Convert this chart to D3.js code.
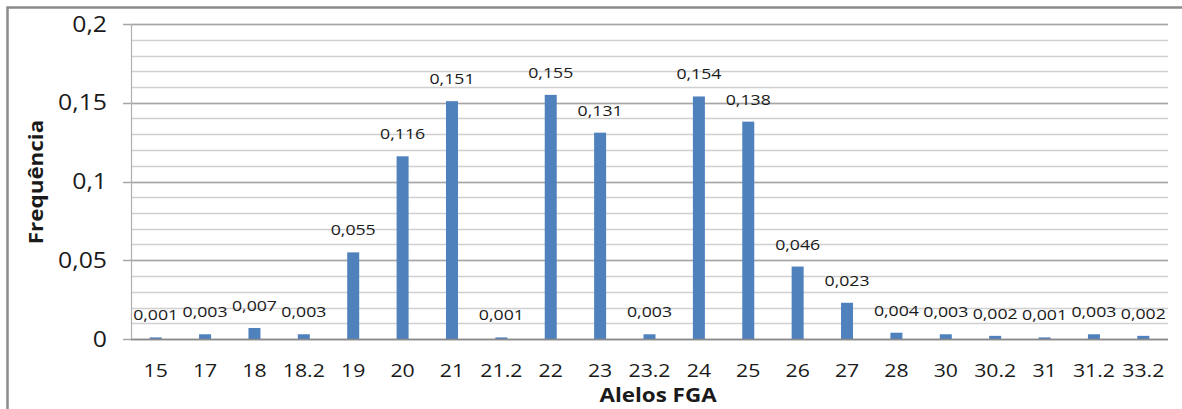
<!DOCTYPE html>
<html>
<head>
<meta charset="utf-8">
<script src="https://cdn.jsdelivr.net/npm/d3@7"></script>
<style>
  html, body { margin: 0; padding: 0; background: #fff; }
  svg { display: block; }
  text { font-family: "Open Sans", "Liberation Sans", sans-serif; fill: #1a1a1a; }
</style>
</head>
<body>
<svg id="chart" width="1182" height="409"></svg>
<script>
// FGA allele frequencies
const alleles = ["15","17","18","18.2","19","20","21","21.2","22","23","23.2","24","25","26","27","28","30","30.2","31","31.2","33.2"];
const frequencies = [0.001,0.003,0.007,0.003,0.055,0.116,0.151,0.001,0.155,0.131,0.003,0.154,0.138,0.046,0.023,0.004,0.003,0.002,0.001,0.003,0.002];
const yTicks = [0, 0.05, 0.1, 0.15, 0.2];
const yMinorTicks = d3.range(0, 0.2001, 0.01);

const svg = d3.select("#chart");
const W = 1182, H = 409;
const plot = { left: 131, right: 1168, top: 24, bottom: 339 };

const fmt = v => String(v).replace(".", ",");
const stretch = 1.18; // wide label faces

// chart frame
svg.append("rect")
  .attr("x", 7.5).attr("y", 7.5)
  .attr("width", W + 20).attr("height", H + 20)
  .attr("fill", "#fff").attr("stroke", "#8c8c8c").attr("stroke-width", 2.5);

const x = d3.scaleBand().domain(alleles).range([plot.left, plot.right]).paddingInner(0).paddingOuter(0);
const y = d3.scaleLinear().domain([0, 0.2]).range([plot.bottom, plot.top]);
const barW = 12;

// minor grid
svg.append("g").selectAll("line").data(yMinorTicks).join("line")
  .attr("x1", plot.left).attr("x2", plot.right)
  .attr("y1", d => Math.round(y(d)) + 0.5).attr("y2", d => Math.round(y(d)) + 0.5)
  .attr("stroke", "#d0d0d0").attr("stroke-width", 1.5);

// major grid
svg.append("g").selectAll("line").data(yTicks).join("line")
  .attr("x1", plot.left - 8).attr("x2", plot.right)
  .attr("y1", d => Math.round(y(d)) + 0.5).attr("y2", d => Math.round(y(d)) + 0.5)
  .attr("stroke", "#a6a6a6").attr("stroke-width", 1.5);

// y axis line
svg.append("line")
  .attr("x1", plot.left + 0.5).attr("x2", plot.left + 0.5)
  .attr("y1", plot.top).attr("y2", plot.bottom)
  .attr("stroke", "#b0b0b0").attr("stroke-width", 1.2);

// y tick labels
const yAxis = d3.axisLeft(y).tickValues(yTicks).tickFormat(fmt).tickSize(0).tickPadding(0);
const yg = svg.append("g").attr("transform", `translate(${plot.left},0)`).call(yAxis);
yg.select(".domain").remove();
yg.selectAll("text")
  .attr("x", null).attr("dy", null).attr("y", null)
  .style("font-size", "21px").style("font-family", null)
  .attr("text-anchor", "end")
  .attr("transform", `translate(-24,7) scale(${stretch},1)`)
  .attr("fill", "#1a1a1a");

// bars
svg.append("g").selectAll("rect").data(alleles).join("rect")
  .attr("x", (d) => x(d) + x.bandwidth() / 2 - barW / 2)
  .attr("width", barW)
  .attr("y", (d, i) => y(frequencies[i]))
  .attr("height", (d, i) => y(0) - y(frequencies[i]))
  .attr("fill", "#4f81bd");

// zero line
svg.append("line")
  .attr("x1", plot.left).attr("x2", plot.right)
  .attr("y1", y(0) + 0.5).attr("y2", y(0) + 0.5)
  .attr("stroke", "#8a8a8a").attr("stroke-width", 1.5);

// data labels
svg.append("g").selectAll("text").data(alleles).join("text")
  .attr("text-anchor", "middle")
  .attr("transform", (d, i) => `translate(${x(d) + x.bandwidth() / 2},${y(frequencies[i]) - 17}) scale(${stretch},1)`)
  .style("font-size", "15px")
  .text((d, i) => fmt(frequencies[i]));

// x tick labels
const xAxis = d3.axisBottom(x).tickSize(0).tickPadding(0);
const xg = svg.append("g").attr("transform", `translate(0,${plot.bottom})`).call(xAxis);
xg.select(".domain").remove();
xg.selectAll("text")
  .attr("y", null).attr("dy", null)
  .style("font-size", "18px").style("font-family", null)
  .attr("transform", `translate(0,38) scale(${stretch},1)`)
  .attr("fill", "#1a1a1a");
xg.selectAll(".tick").attr("transform", d => `translate(${x(d) + x.bandwidth() / 2},0)`);

// axis titles
svg.append("text")
  .attr("text-anchor", "middle")
  .attr("transform", `translate(658,402) scale(${stretch},1)`)
  .style("font-size", "19px").style("font-weight", "bold")
  .text("Alelos FGA");

svg.append("text")
  .attr("text-anchor", "middle")
  .attr("transform", `translate(43,182) rotate(-90) scale(${stretch},1)`)
  .style("font-size", "19px").style("font-weight", "bold")
  .text("Frequência");
</script>
</body>
</html>
